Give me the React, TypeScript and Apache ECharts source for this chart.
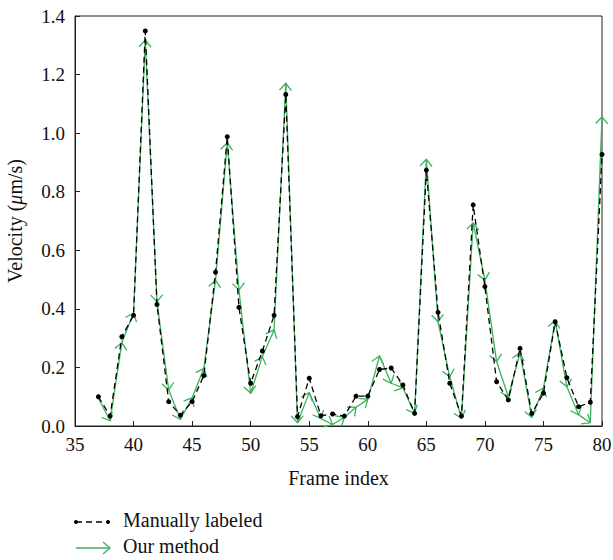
import React, { useEffect, useRef } from "react";
import * as echarts from "echarts";

const frames = [37, 38, 39, 40, 41, 42, 43, 44, 45, 46, 47, 48, 49, 50, 51, 52, 53, 54, 55, 56, 57, 58, 59, 60, 61, 62, 63, 64, 65, 66, 67, 68, 69, 70, 71, 72, 73, 74, 75, 76, 77, 78, 79, 80];
const manual = [0.1, 0.034, 0.305, 0.378, 1.349, 0.415, 0.083, 0.037, 0.083, 0.172, 0.525, 0.988, 0.405, 0.146, 0.256, 0.378, 1.132, 0.032, 0.163, 0.035, 0.041, 0.034, 0.102, 0.102, 0.193, 0.198, 0.14, 0.043, 0.874, 0.388, 0.146, 0.034, 0.755, 0.476, 0.151, 0.089, 0.265, 0.043, 0.112, 0.356, 0.165, 0.066, 0.081, 0.927];
const ours = [0.095, 0.018, 0.285, 0.385, 1.318, 0.424, 0.123, 0.023, 0.096, 0.197, 0.498, 0.967, 0.464, 0.112, 0.237, 0.328, 1.17, 0.011, 0.114, 0.025, 0.005, 0.03, 0.064, 0.091, 0.239, 0.146, 0.13, 0.043, 0.911, 0.356, 0.168, 0.026, 0.694, 0.498, 0.22, 0.1, 0.25, 0.03, 0.129, 0.36, 0.134, 0.038, 0.011, 1.056];
const xTicks = { min: 35, max: 80, interval: 5 };
const yTicks = { min: 0, max: 1.4, interval: 0.2 };
const seriesNames = ["Manually labeled", "Our method"];

const GREEN = "#3cb15c";
const FONT = "'Liberation Serif', 'DejaVu Serif', serif";

export default function App() {
  const ref = useRef<HTMLDivElement>(null);
  useEffect(() => {
    if (!ref.current) return;
    const chart = echarts.init(ref.current, null, { renderer: "svg" });
    const manualData = frames.map((f, i) => [f, manual[i]]);
    const oursData = frames.map((f, i) => [f, ours[i]]);
    chart.setOption({
      animation: false,
      backgroundColor: "#fff",
      textStyle: { fontFamily: FONT },
      grid: {
        left: 75, right: 11, top: 16, bottom: 134,
        containLabel: false, outerBoundsMode: "none",
        show: true, borderColor: "#222", borderWidth: 1,
      },
      xAxis: {
        type: "value",
        min: xTicks.min,
        max: xTicks.max,
        interval: xTicks.interval,
        name: "Frame index",
        nameLocation: "middle",
        nameGap: 42,
        nameTextStyle: { fontFamily: FONT, fontSize: 20, color: "#111" },
        axisLine: { lineStyle: { color: "#222" } },
        axisTick: { inside: true, length: 5, lineStyle: { color: "#222" } },
        axisLabel: { fontFamily: FONT, fontSize: 19, color: "#111", margin: 9 },
        splitLine: { show: false },
      },
      yAxis: {
        type: "value",
        min: yTicks.min,
        max: yTicks.max,
        interval: yTicks.interval,
        name: "Velocity ({i|μ}m/s)",
        nameLocation: "middle",
        nameGap: 50,
        nameRotate: 90,
        nameTextStyle: {
          fontFamily: FONT,
          fontSize: 20,
          color: "#111",
          rich: { i: { fontFamily: FONT, fontSize: 20, fontStyle: "italic", color: "#111" } },
        },
        axisLine: { lineStyle: { color: "#222" } },
        axisTick: { inside: true, length: 5, lineStyle: { color: "#222" } },
        axisLabel: { fontFamily: FONT, fontSize: 19, color: "#111", margin: 10, formatter: (v: number) => v.toFixed(1) },
        splitLine: { show: false },
      },
      series: [
        {
          name: seriesNames[0],
          type: "line",
          data: manualData,
          symbol: "circle",
          symbolSize: 5,
          itemStyle: { color: "#000" },
          lineStyle: { color: "#000", width: 1.3, type: [6, 4] },
          z: 3,
        },
        {
          name: seriesNames[1],
          type: "custom",
          data: oursData,
          encode: { x: 0, y: 1 },
          z: 2,
          renderItem: (params: any, api: any) => {
            const i = params.dataIndex;
            if (i === 0) return { type: "group", children: [] };
            const p0 = api.coord([frames[i - 1], ours[i - 1]]);
            const p1 = api.coord([frames[i], ours[i]]);
            const dx = p1[0] - p0[0];
            const dy = p1[1] - p0[1];
            const len = Math.sqrt(dx * dx + dy * dy) || 1;
            const ux = dx / len, uy = dy / len;
            const nx = -uy, ny = ux;
            const L = 7, W = 6;
            const a = [p1[0] - L * ux + W * nx, p1[1] - L * uy + W * ny];
            const b = [p1[0] - L * ux - W * nx, p1[1] - L * uy - W * ny];
            const style = { stroke: GREEN, lineWidth: 1.3, fill: "none" };
            return {
              type: "group",
              children: [
                { type: "line", shape: { x1: p0[0], y1: p0[1], x2: p1[0], y2: p1[1] }, style },
                { type: "polyline", shape: { points: [a, p1, b] }, style },
              ],
            };
          },
        },
      ],
      graphic: [
        { type: "line", shape: { x1: 76, y1: 522, x2: 108, y2: 522 }, style: { stroke: "#000", lineWidth: 1.3, lineDash: [6, 4] } },
        { type: "circle", shape: { cx: 76, cy: 522, r: 2 }, style: { fill: "#000" } },
        { type: "circle", shape: { cx: 108, cy: 522, r: 2 }, style: { fill: "#000" } },
        { type: "text", left: 123, top: 510, style: { text: seriesNames[0], font: `20px ${FONT}`, fill: "#111" } },
        { type: "line", shape: { x1: 76, y1: 548, x2: 110, y2: 548 }, style: { stroke: GREEN, lineWidth: 1.3 } },
        { type: "polyline", shape: { points: [[103, 542], [110, 548], [103, 554]] }, style: { stroke: GREEN, lineWidth: 1.3, fill: "none" } },
        { type: "text", left: 123, top: 536, style: { text: seriesNames[1], font: `20px ${FONT}`, fill: "#111" } },
      ],
    });
    return () => chart.dispose();
  }, []);
  return <div ref={ref} style={{ width: 613, height: 560, position: "absolute", left: 0, top: 0 }} />;
}
